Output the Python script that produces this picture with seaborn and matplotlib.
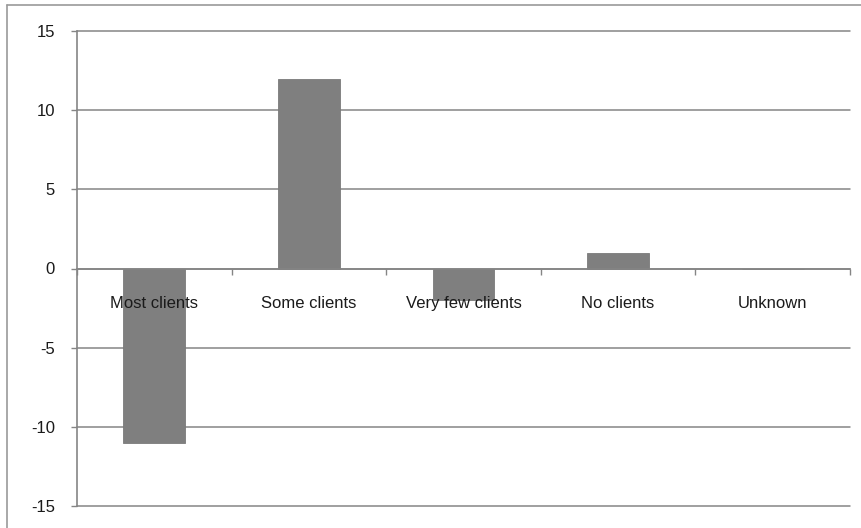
import matplotlib
matplotlib.use("Agg")
import matplotlib.pyplot as plt
from matplotlib.lines import Line2D
import seaborn as sns
import pandas as pd
import numpy as np

categories = ["Most clients", "Some clients", "Very few clients", "No clients", "Unknown"]
values = [-11, 12, -2, 1, 0]
y_ticks = [-15, -10, -5, 0, 5, 10, 15]

sns.set_theme(style="white")
plt.rcParams["font.family"] = ["Liberation Sans", "DejaVu Sans"]

df = pd.DataFrame({"category": categories, "value": values})

fig = plt.figure(figsize=(8.62, 5.28), dpi=100)
ax = fig.add_axes([77 / 862, 1 - 506 / 528, (850 - 77) / 862, (506 - 31) / 528])

sns.barplot(data=df, x="category", y="value", color="#7f7f7f", width=0.4,
            saturation=1, ax=ax, zorder=3, edgecolor="#7a7a7a", linewidth=0.6)

grid_col = "#858585"
ax.set_ylim(-15, 15)
ax.set_xlim(-0.5, len(categories) - 0.5)
ax.set_yticks(y_ticks)
ax.set_yticklabels([str(t) for t in y_ticks], fontsize=12, color="#1a1a1a")
ax.yaxis.grid(True, color=grid_col, linewidth=1.1)
ax.set_axisbelow(True)
for gl in ax.yaxis.get_gridlines():
    gl.set_clip_on(False)
ax.set_xlabel("")
ax.set_ylabel("")

for side in ("top", "right"):
    ax.spines[side].set_visible(False)
ax.spines["left"].set_color(grid_col)
ax.spines["left"].set_linewidth(1.2)
ax.spines["bottom"].set_position(("data", 0))
ax.spines["bottom"].set_color(grid_col)
ax.spines["bottom"].set_linewidth(1.2)
ax.spines["bottom"].set_zorder(4)

ax.tick_params(axis="y", which="major", direction="out", length=4, width=1,
               color=grid_col, pad=12, left=True)
# category labels under the zero line, ticks between categories
ax.set_xticks(np.arange(len(categories)))
ax.set_xticklabels(categories, fontsize=12, color="#1a1a1a")
ax.tick_params(axis="x", which="major", length=0, pad=20)
ax.set_xticks(np.arange(len(categories) + 1) - 0.5, minor=True)
ax.tick_params(axis="x", which="minor", direction="out", length=4, width=1,
               color=grid_col, bottom=True)
# keep the category labels on top of the bars
ax.xaxis.set_zorder(5)

# outer frame of the chart area
fx = 7 / 862
fy = 1 - 5 / 528
fig.add_artist(Line2D([fx, 1.0], [fy, fy], transform=fig.transFigure,
                      color="#9a9a9a", linewidth=1.2))
fig.add_artist(Line2D([fx, fx], [0.0, fy], transform=fig.transFigure,
                      color="#9a9a9a", linewidth=1.2))

fig.savefig("out.png", dpi=100, facecolor="white")
